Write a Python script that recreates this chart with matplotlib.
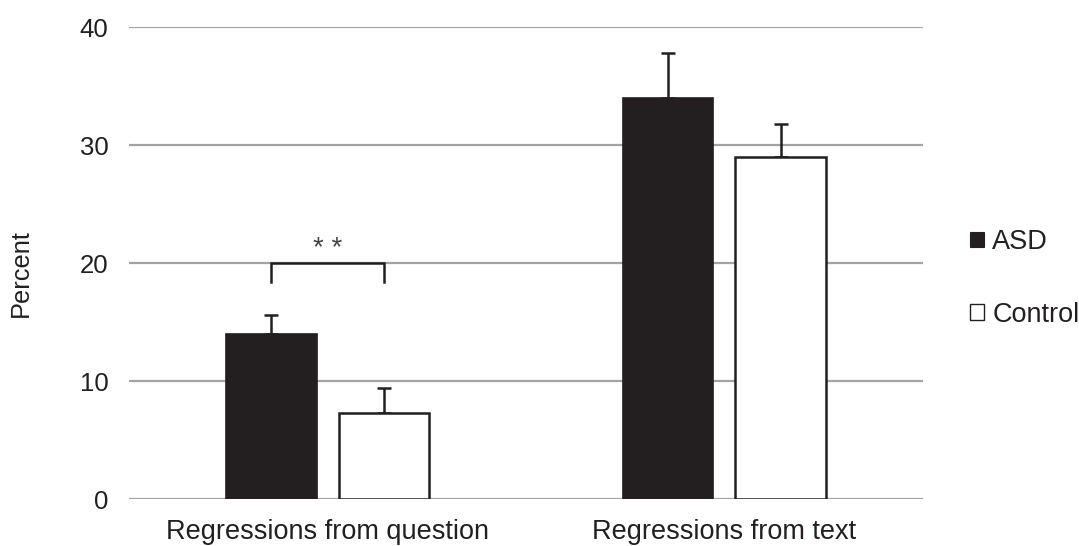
import numpy as np
import matplotlib.pyplot as plt
from matplotlib.patches import Patch

plt.rcParams['font.family'] = ['Liberation Sans', 'DejaVu Sans']

categories = ['Regressions from question', 'Regressions from text']
asd = [14.0, 34.0]
asd_err = [1.6, 3.8]
control = [7.3, 29.0]
control_err = [2.1, 2.8]

fig = plt.figure(figsize=(10.79, 5.46), dpi=100)
ax = fig.add_axes([0.1198, 0.0855, 0.7354, 0.8645])

x = np.arange(len(categories))
w = 0.227
off = 0.1415
dark = '#231f20'

ax.bar(x - off, asd, w, color=dark, edgecolor=dark, linewidth=1.2, zorder=3)
ax.bar(x + off, control, w, color='white', edgecolor=dark, linewidth=1.8, zorder=3)
ax.errorbar(x - off, asd, yerr=[np.zeros(2), asd_err], fmt='none', ecolor=dark,
            elinewidth=1.8, capsize=5, capthick=1.8, zorder=2)
ax.errorbar(x + off, control, yerr=[np.zeros(2), control_err], fmt='none', ecolor=dark,
            elinewidth=1.8, capsize=5, capthick=1.8, zorder=2)

# significance bracket over the question group
bx0, bx1 = x[0] - off, x[0] + off
ax.plot([bx0, bx0, bx1, bx1], [18.4, 20, 20, 18.4], color=dark, lw=1.8, zorder=4,
        solid_joinstyle='miter')
ax.text(x[0], 21.2, '* *', ha='center', va='center', fontsize=20, color='#444444')

ax.set_xlim(-0.5, 1.5)
ax.set_ylim(0, 40)
ax.set_yticks([0, 10, 20, 30, 40])
ax.set_xticks(x)
ax.set_xticklabels(categories, fontsize=19.5, color=dark)
ax.tick_params(axis='y', length=0, pad=15, labelsize=18.5, labelcolor=dark)
ax.tick_params(axis='x', length=0, pad=14)
ax.yaxis.grid(True, color='#a3a3a3', lw=1.6, zorder=0)
ax.set_axisbelow(True)
for s in ax.spines.values():
    s.set_visible(False)

fig.text(0.0195, 0.5, 'Percent', rotation=90, ha='center', va='center', fontsize=18.3, color=dark)

handles = [Patch(facecolor=dark, edgecolor=dark, lw=0.8, label='ASD'),
           Patch(facecolor='white', edgecolor=dark, lw=1.0, label='Control')]
ax.legend(handles=handles, loc='center left', bbox_to_anchor=(0.899, 0.490),
          bbox_transform=fig.transFigure, frameon=False, fontsize=19.5,
          handlelength=0.52, handleheight=0.52, handletextpad=0.3, labelspacing=1.72,
          borderpad=0, borderaxespad=0, labelcolor=dark)

fig.savefig('out.png', dpi=100)
